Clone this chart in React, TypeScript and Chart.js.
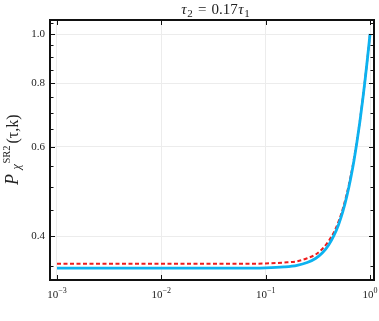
import { useEffect, useRef } from 'react';
import { Chart, registerables } from 'chart.js';

Chart.register(...registerables);

// ---- data ----
const tau = [0.001, 0.01, 0.05, 0.1, 0.15, 0.2, 0.25, 0.3, 0.35, 0.4, 0.45, 0.5, 0.55, 0.6, 0.65, 0.7, 0.75, 0.8, 0.85, 0.9, 0.95, 1.0];
const pBlue = [0.346, 0.346, 0.346, 0.3465, 0.348, 0.3505, 0.355, 0.3615, 0.371, 0.384, 0.401, 0.422, 0.448, 0.48, 0.518, 0.562, 0.614, 0.673, 0.741, 0.818, 0.904, 1.0];
const pRed = [0.353, 0.353, 0.353, 0.3535, 0.355, 0.357, 0.362, 0.368, 0.378, 0.391, 0.407, 0.428, 0.454, 0.486, 0.523, 0.567, 0.618, 0.676, 0.744, 0.82, 0.905, 1.0];

const xMajorTicks = [0.001, 0.01, 0.1, 1];
const xTickExponents = ['−3', '−2', '−1', '0'];
const yMajorTicks = [0.4, 0.6, 0.8, 1.0];
const yTickLabels = ['0.4', '0.6', '0.8', '1.0'];
const yMinorTicks = [0.35, 0.45, 0.5, 0.55, 0.65, 0.7, 0.75, 0.85, 0.9, 0.95, 1.05];

const xMin = 0.000857;
const xMax = 1.0914;
const yMin = 0.328;
const yMax = 1.0655;

const SERIF = "'Liberation Serif', 'DejaVu Serif', serif";

type Piece = { t: string; size: number; italic?: boolean; dy?: number; gap?: number };

function drawPieces(ctx: CanvasRenderingContext2D, pieces: Piece[], cx: number, baseY: number) {
  const widths = pieces.map((p) => {
    ctx.font = `${p.italic ? 'italic ' : ''}${p.size}px ${SERIF}`;
    return ctx.measureText(p.t).width + (p.gap || 0);
  });
  const total = widths.reduce((a, b) => a + b, 0);
  let x = cx - total / 2;
  pieces.forEach((p, i) => {
    ctx.font = `${p.italic ? 'italic ' : ''}${p.size}px ${SERIF}`;
    ctx.fillText(p.t, x, baseY + (p.dy || 0));
    x += widths[i];
  });
}

const decorPlugin = {
  id: 'decor',
  afterDraw(chart: any) {
    const { ctx, chartArea: a, scales } = chart;
    const xs = scales.x;
    const ys = scales.y;
    ctx.save();
    ctx.strokeStyle = '#111';
    ctx.lineWidth = 1;
    ctx.beginPath();
    xMajorTicks.forEach((v) => {
      const px = Math.round(xs.getPixelForValue(v)) + 0.5;
      ctx.moveTo(px, a.bottom);
      ctx.lineTo(px, a.bottom - 5);
      ctx.moveTo(px, a.top);
      ctx.lineTo(px, a.top + 5);
    });
    yMajorTicks.forEach((v) => {
      const py = Math.round(ys.getPixelForValue(v)) + 0.5;
      ctx.moveTo(a.left, py);
      ctx.lineTo(a.left + 5, py);
      ctx.moveTo(a.right, py);
      ctx.lineTo(a.right - 5, py);
    });
    yMinorTicks.forEach((v) => {
      const py = Math.round(ys.getPixelForValue(v)) + 0.5;
      if (py < a.top || py > a.bottom) return;
      ctx.moveTo(a.left, py);
      ctx.lineTo(a.left + 3.5, py);
      ctx.moveTo(a.right, py);
      ctx.lineTo(a.right - 3.5, py);
    });
    ctx.stroke();

    // frame
    ctx.lineWidth = 2;
    ctx.strokeStyle = '#111';
    ctx.strokeRect(a.left, a.top, a.right - a.left, a.bottom - a.top);

    ctx.fillStyle = '#222';

    // y tick labels
    ctx.font = `11px ${SERIF}`;
    ctx.textAlign = 'right';
    ctx.textBaseline = 'middle';
    yMajorTicks.forEach((v, i) => {
      ctx.fillText(yTickLabels[i], a.left - 5, ys.getPixelForValue(v));
    });

    // x tick labels (10^n)
    ctx.textAlign = 'left';
    ctx.textBaseline = 'alphabetic';
    xMajorTicks.forEach((v, i) => {
      const px = xs.getPixelForValue(v);
      drawPieces(ctx, [
        { t: '10', size: 11 },
        { t: xTickExponents[i], size: 8, dy: -5 },
      ], px, a.bottom + 18);
    });

    // title
    drawPieces(ctx, [
      { t: 'τ', size: 15, italic: true, gap: 0.5 },
      { t: '2', size: 11, dy: 3, gap: 1.5 },
      { t: ' = ', size: 15, gap: 1.5 },
      { t: '0.17', size: 15, gap: 0.5 },
      { t: 'τ', size: 15, italic: true, gap: 0.5 },
      { t: '1', size: 11, dy: 3 },
    ], 215.5, 14);

    // y-axis label (rotated), laid out along the rotated baseline
    ctx.save();
    ctx.translate(17.5, 148.5);
    ctx.rotate(-Math.PI / 2);
    ctx.font = `italic 18px ${SERIF}`;
    ctx.fillText('P', -36.5, 0);
    ctx.font = `italic 12px ${SERIF}`;
    ctx.fillText('χ', -21, 2.5);
    ctx.font = `10.5px ${SERIF}`;
    ctx.fillText('SR2', -15, -7.5);
    ctx.font = `16px ${SERIF}`;
    ctx.fillText('(τ,k)', 5, 0);
    ctx.restore();

    ctx.restore();
  },
};

export default function App() {
  const ref = useRef<HTMLCanvasElement | null>(null);
  useEffect(() => {
    if (!ref.current) return;
    const chart = new Chart(ref.current, {
      type: 'line',
      data: {
        datasets: [
          {
            label: 'blue',
            data: tau.map((t, i) => ({ x: t, y: pBlue[i] })),
            borderColor: '#0cb2f0',
            borderWidth: 2.8,
            pointRadius: 0,
            cubicInterpolationMode: 'monotone',
            fill: false,
          },
          {
            label: 'red',
            data: tau.map((t, i) => ({ x: t, y: pRed[i] })),
            borderColor: '#ee1c1c',
            borderWidth: 2,
            borderDash: [4, 2.5],
            pointRadius: 0,
            cubicInterpolationMode: 'monotone',
            fill: false,
          },
        ],
      },
      options: {
        animation: false,
        responsive: false,
        devicePixelRatio: 1,
        layout: { padding: { top: 20, right: 5, left: 0, bottom: 0 } },
        plugins: { legend: { display: false }, tooltip: { enabled: false }, title: { display: false } },
        scales: {
          x: {
            type: 'logarithmic',
            min: xMin,
            max: xMax,
            afterBuildTicks: (s: any) => {
              s.ticks = xMajorTicks.map((v) => ({ value: v }));
            },
            afterFit: (s: any) => {
              s.height = 41;
            },
            ticks: { display: false },
            grid: { color: '#ececec', lineWidth: 1, drawTicks: false },
            border: { display: false },
          },
          y: {
            type: 'logarithmic',
            min: yMin,
            max: yMax,
            afterBuildTicks: (s: any) => {
              s.ticks = yMajorTicks.map((v) => ({ value: v }));
            },
            afterFit: (s: any) => {
              s.width = 50;
            },
            ticks: { display: false },
            grid: { color: '#ececec', lineWidth: 1, drawTicks: false },
            border: { display: false },
          },
        },
      } as any,
      plugins: [decorPlugin],
    });
    return () => chart.destroy();
  }, []);
  return (
    <div style={{ position: 'fixed', left: 0, top: 0, width: 379, height: 321, background: '#fff' }}>
      <canvas ref={ref} width={379} height={321} style={{ display: 'block' }} />
    </div>
  );
}
